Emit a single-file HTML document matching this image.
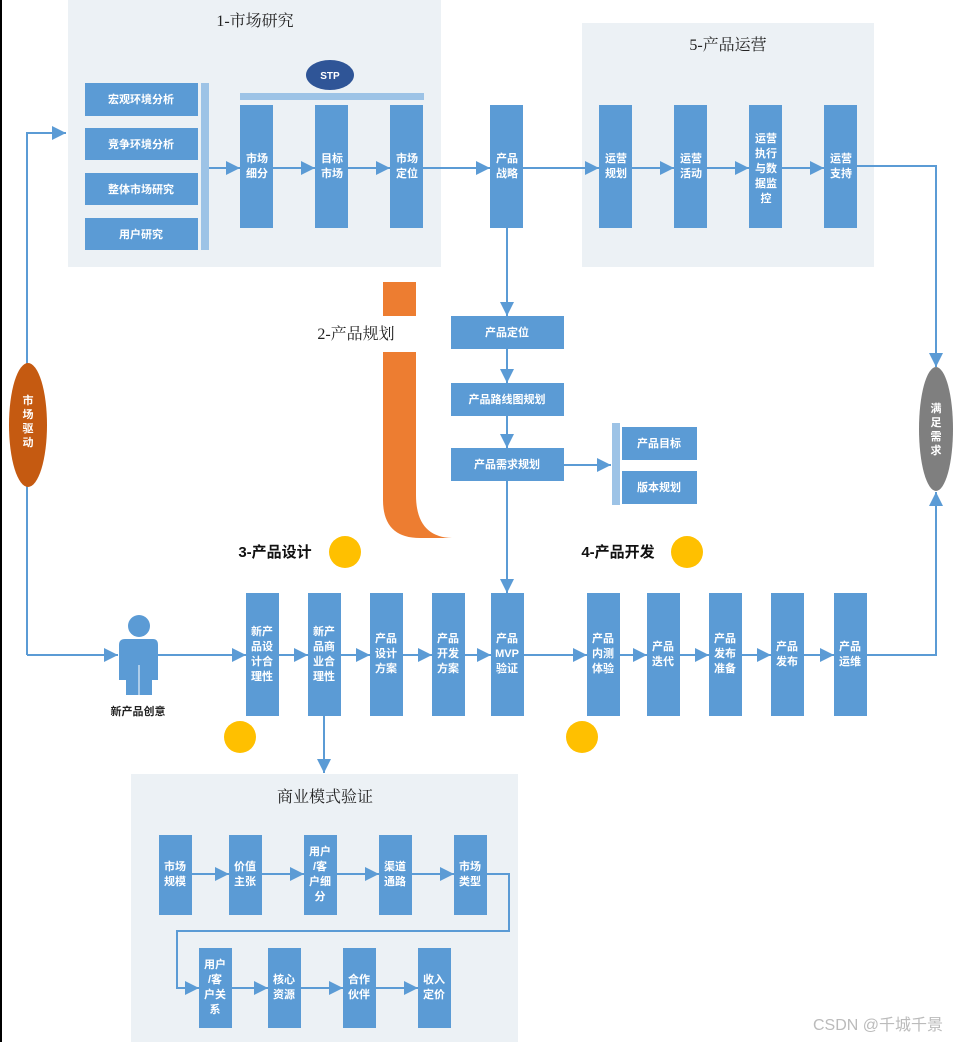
<!DOCTYPE html>
<html><head><meta charset="utf-8">
<style>
html,body{margin:0;padding:0;background:#fff;}
svg{display:block;}
text{font-family:"Liberation Sans","Noto Sans CJK SC",sans-serif;}
.w{fill:#fff;font-size:11px;font-weight:bold;text-anchor:middle;}
.t{fill:#222;font-size:16px;text-anchor:middle;font-family:"Liberation Serif","Noto Serif CJK SC",serif;}
.b{fill:#5b9bd5;}
.l{stroke:#5b9bd5;stroke-width:2;fill:none;}
</style></head>
<body>
<svg width="956" height="1042" viewBox="0 0 956 1042" xmlns="http://www.w3.org/2000/svg">
<defs><marker id="m" viewBox="0 0 10 10" refX="10" refY="5" markerWidth="14" markerHeight="14" orient="auto" markerUnits="userSpaceOnUse"><path d="M0,0 L10,5 L0,10 Z" fill="#5b9bd5"/></marker></defs>
<rect x="0" y="0" width="2" height="1042" fill="#000"/>

<rect x="68" y="0" width="373" height="267" fill="#ecf1f5"/>
<rect x="582" y="23" width="292" height="244" fill="#ecf1f5"/>
<rect x="131" y="774" width="387" height="268" fill="#ecf1f5"/>
<text class="t" x="255" y="26">1-市场研究</text>
<text class="t" x="728" y="50">5-产品运营</text>
<text class="t" x="325" y="802">商业模式验证</text>

<rect class="b" x="85" y="83" width="113" height="33"/><text class="w" x="141" y="103">宏观环境分析</text>
<rect class="b" x="85" y="128" width="113" height="32"/><text class="w" x="141" y="148">竞争环境分析</text>
<rect class="b" x="85" y="173" width="113" height="32"/><text class="w" x="141" y="193">整体市场研究</text>
<rect class="b" x="85" y="218" width="113" height="32"/><text class="w" x="141" y="238">用户研究</text>
<rect x="201" y="83" width="8" height="167" fill="#9dc3e6"/>
<ellipse cx="330" cy="75" rx="24" ry="15" fill="#2f5597"/>
<text x="330" y="79" fill="#fff" font-size="10" font-weight="bold" text-anchor="middle">STP</text>
<rect x="240" y="93" width="184" height="7" fill="#9dc3e6"/>
<rect class="b" x="240" y="105" width="33" height="123"/><text class="w" x="257" y="162">市场</text><text class="w" x="257" y="177">细分</text>
<rect class="b" x="315" y="105" width="33" height="123"/><text class="w" x="332" y="162">目标</text><text class="w" x="332" y="177">市场</text>
<rect class="b" x="390" y="105" width="33" height="123"/><text class="w" x="407" y="162">市场</text><text class="w" x="407" y="177">定位</text>
<line class="l" x1="209" y1="168" x2="240" y2="168" marker-end="url(#m)"/>
<line class="l" x1="273" y1="168" x2="315" y2="168" marker-end="url(#m)"/>
<line class="l" x1="348" y1="168" x2="390" y2="168" marker-end="url(#m)"/>
<line class="l" x1="423" y1="168" x2="490" y2="168" marker-end="url(#m)"/>
<rect class="b" x="490" y="105" width="33" height="123"/><text class="w" x="507" y="162">产品</text><text class="w" x="507" y="177">战略</text>
<line class="l" x1="523" y1="168" x2="599" y2="168" marker-end="url(#m)"/>

<rect class="b" x="599" y="105" width="33" height="123"/><text class="w" x="616" y="162">运营</text><text class="w" x="616" y="177">规划</text>
<rect class="b" x="674" y="105" width="33" height="123"/><text class="w" x="691" y="162">运营</text><text class="w" x="691" y="177">活动</text>
<rect class="b" x="749" y="105" width="33" height="123"/><text class="w" x="766" y="142">运营</text><text class="w" x="766" y="157">执行</text><text class="w" x="766" y="172">与数</text><text class="w" x="766" y="187">据监</text><text class="w" x="766" y="202">控</text>
<rect class="b" x="824" y="105" width="33" height="123"/><text class="w" x="841" y="162">运营</text><text class="w" x="841" y="177">支持</text>
<line class="l" x1="632" y1="168" x2="674" y2="168" marker-end="url(#m)"/>
<line class="l" x1="707" y1="168" x2="749" y2="168" marker-end="url(#m)"/>
<line class="l" x1="782" y1="168" x2="824" y2="168" marker-end="url(#m)"/>
<polyline class="l" points="857,166 936,166 936,367" marker-end="url(#m)"/>
<ellipse cx="936" cy="429" rx="17" ry="62" fill="#7f7f7f"/>
<text class="w" x="936" y="412">满</text><text class="w" x="936" y="426">足</text><text class="w" x="936" y="440">需</text><text class="w" x="936" y="454">求</text>
<polyline class="l" points="867,655 936,655 936,492" marker-end="url(#m)"/>

<rect x="383" y="282" width="33" height="34" fill="#ed7d31"/>
<path d="M383,352 H416 V495 Q416,537 452,538 H420 Q383,538 383,500 Z" fill="#ed7d31"/>
<text class="t" x="356" y="339">2-产品规划</text>
<line class="l" x1="507" y1="228" x2="507" y2="316" marker-end="url(#m)"/>
<rect class="b" x="451" y="316" width="113" height="33"/><text class="w" x="507" y="336">产品定位</text>
<line class="l" x1="507" y1="349" x2="507" y2="383" marker-end="url(#m)"/>
<rect class="b" x="451" y="383" width="113" height="33"/><text class="w" x="507" y="403">产品路线图规划</text>
<line class="l" x1="507" y1="416" x2="507" y2="448" marker-end="url(#m)"/>
<rect class="b" x="451" y="448" width="113" height="33"/><text class="w" x="507" y="468">产品需求规划</text>
<line class="l" x1="564" y1="465" x2="611" y2="465" marker-end="url(#m)"/>
<rect x="612" y="423" width="8" height="82" fill="#9dc3e6"/>
<rect class="b" x="622" y="427" width="75" height="33"/><text class="w" x="659" y="447">产品目标</text>
<rect class="b" x="622" y="471" width="75" height="33"/><text class="w" x="659" y="491">版本规划</text>
<line class="l" x1="507" y1="481" x2="507" y2="593" marker-end="url(#m)"/>

<text x="275" y="557" font-size="15" font-weight="bold" text-anchor="middle" fill="#111">3-产品设计</text>
<text x="618" y="557" font-size="15" font-weight="bold" text-anchor="middle" fill="#111">4-产品开发</text>
<circle cx="345" cy="552" r="16" fill="#ffc000"/>
<circle cx="687" cy="552" r="16" fill="#ffc000"/>
<circle cx="240" cy="737" r="16" fill="#ffc000"/>
<circle cx="582" cy="737" r="16" fill="#ffc000"/>

<polyline class="l" points="27,655 27,133 66,133" marker-end="url(#m)"/>
<ellipse cx="28" cy="425" rx="19" ry="62" fill="#c55a11"/>
<text class="w" x="28" y="404">市</text><text class="w" x="28" y="418">场</text><text class="w" x="28" y="432">驱</text><text class="w" x="28" y="446">动</text>
<line class="l" x1="27" y1="655" x2="118" y2="655" marker-end="url(#m)"/>
<circle cx="139" cy="626" r="11" class="b"/>
<path d="M119,645 Q119,639 125,639 H153 Q158,639 158,645 V680 H152 V695 H126 V680 H119 Z" class="b"/>
<line x1="139" y1="665" x2="139" y2="695" stroke="#fff" stroke-width="1"/>
<text x="138" y="715" font-size="11" font-weight="bold" text-anchor="middle" fill="#222">新产品创意</text>
<line class="l" x1="158" y1="655" x2="246" y2="655" marker-end="url(#m)"/>

<rect class="b" x="246" y="593" width="33" height="123"/><text class="w" x="262" y="635">新产</text><text class="w" x="262" y="650">品设</text><text class="w" x="262" y="665">计合</text><text class="w" x="262" y="680">理性</text>
<rect class="b" x="308" y="593" width="33" height="123"/><text class="w" x="324" y="635">新产</text><text class="w" x="324" y="650">品商</text><text class="w" x="324" y="665">业合</text><text class="w" x="324" y="680">理性</text>
<rect class="b" x="370" y="593" width="33" height="123"/><text class="w" x="386" y="642">产品</text><text class="w" x="386" y="657">设计</text><text class="w" x="386" y="672">方案</text>
<rect class="b" x="432" y="593" width="33" height="123"/><text class="w" x="448" y="642">产品</text><text class="w" x="448" y="657">开发</text><text class="w" x="448" y="672">方案</text>
<rect class="b" x="491" y="593" width="33" height="123"/><text class="w" x="507" y="642">产品</text><text class="w" x="507" y="657">MVP</text><text class="w" x="507" y="672">验证</text>
<line class="l" x1="279" y1="655" x2="308" y2="655" marker-end="url(#m)"/>
<line class="l" x1="341" y1="655" x2="370" y2="655" marker-end="url(#m)"/>
<line class="l" x1="403" y1="655" x2="432" y2="655" marker-end="url(#m)"/>
<line class="l" x1="465" y1="655" x2="491" y2="655" marker-end="url(#m)"/>
<line class="l" x1="524" y1="655" x2="587" y2="655" marker-end="url(#m)"/>
<rect class="b" x="587" y="593" width="33" height="123"/><text class="w" x="603" y="642">产品</text><text class="w" x="603" y="657">内测</text><text class="w" x="603" y="672">体验</text>
<rect class="b" x="647" y="593" width="33" height="123"/><text class="w" x="663" y="650">产品</text><text class="w" x="663" y="665">迭代</text>
<rect class="b" x="709" y="593" width="33" height="123"/><text class="w" x="725" y="642">产品</text><text class="w" x="725" y="657">发布</text><text class="w" x="725" y="672">准备</text>
<rect class="b" x="771" y="593" width="33" height="123"/><text class="w" x="787" y="650">产品</text><text class="w" x="787" y="665">发布</text>
<rect class="b" x="834" y="593" width="33" height="123"/><text class="w" x="850" y="650">产品</text><text class="w" x="850" y="665">运维</text>
<line class="l" x1="620" y1="655" x2="647" y2="655" marker-end="url(#m)"/>
<line class="l" x1="680" y1="655" x2="709" y2="655" marker-end="url(#m)"/>
<line class="l" x1="742" y1="655" x2="771" y2="655" marker-end="url(#m)"/>
<line class="l" x1="804" y1="655" x2="834" y2="655" marker-end="url(#m)"/>

<line class="l" x1="324" y1="716" x2="324" y2="773" marker-end="url(#m)"/>
<rect class="b" x="159" y="835" width="33" height="80"/><text class="w" x="175" y="870">市场</text><text class="w" x="175" y="885">规模</text>
<rect class="b" x="229" y="835" width="33" height="80"/><text class="w" x="245" y="870">价值</text><text class="w" x="245" y="885">主张</text>
<rect class="b" x="304" y="835" width="33" height="80"/><text class="w" x="320" y="855">用户</text><text class="w" x="320" y="870">/客</text><text class="w" x="320" y="885">户细</text><text class="w" x="320" y="900">分</text>
<rect class="b" x="379" y="835" width="33" height="80"/><text class="w" x="395" y="870">渠道</text><text class="w" x="395" y="885">通路</text>
<rect class="b" x="454" y="835" width="33" height="80"/><text class="w" x="470" y="870">市场</text><text class="w" x="470" y="885">类型</text>
<line class="l" x1="192" y1="874" x2="229" y2="874" marker-end="url(#m)"/>
<line class="l" x1="262" y1="874" x2="304" y2="874" marker-end="url(#m)"/>
<line class="l" x1="337" y1="874" x2="379" y2="874" marker-end="url(#m)"/>
<line class="l" x1="412" y1="874" x2="454" y2="874" marker-end="url(#m)"/>
<polyline class="l" points="487,874 509,874 509,931 177,931 177,988 199,988" marker-end="url(#m)"/>
<rect class="b" x="199" y="948" width="33" height="80"/><text class="w" x="215" y="968">用户</text><text class="w" x="215" y="983">/客</text><text class="w" x="215" y="998">户关</text><text class="w" x="215" y="1013">系</text>
<rect class="b" x="268" y="948" width="33" height="80"/><text class="w" x="284" y="983">核心</text><text class="w" x="284" y="998">资源</text>
<rect class="b" x="343" y="948" width="33" height="80"/><text class="w" x="359" y="983">合作</text><text class="w" x="359" y="998">伙伴</text>
<rect class="b" x="418" y="948" width="33" height="80"/><text class="w" x="434" y="983">收入</text><text class="w" x="434" y="998">定价</text>
<line class="l" x1="232" y1="988" x2="268" y2="988" marker-end="url(#m)"/>
<line class="l" x1="301" y1="988" x2="343" y2="988" marker-end="url(#m)"/>
<line class="l" x1="376" y1="988" x2="418" y2="988" marker-end="url(#m)"/>

<text x="878" y="1030" font-size="16" fill="#bbb" text-anchor="middle">CSDN @千城千景</text>
</svg>
</body></html>
